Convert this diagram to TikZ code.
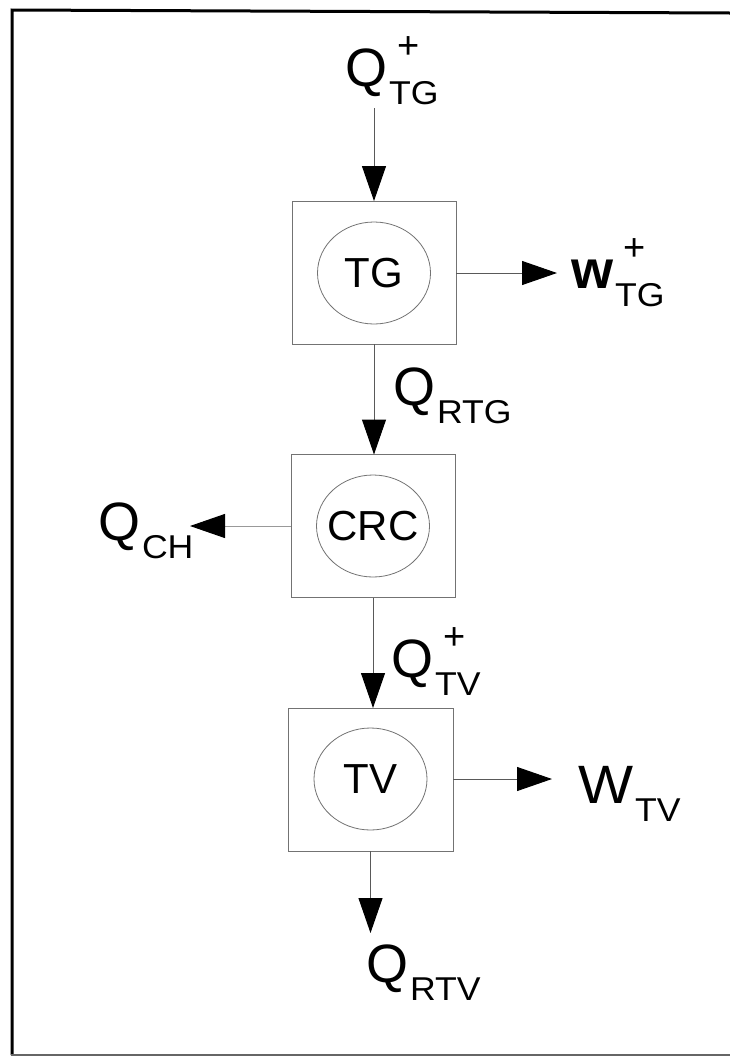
\documentclass[tikz,border=0pt]{standalone}
\usepackage{fontspec}
\setmainfont{Liberation Sans}
\usepackage{graphicx}
\usetikzlibrary{arrows.meta,shapes.geometric}

\newcommand{\mainfnt}{\fontsize{54}{54}\selectfont}
\newcommand{\subfnt}{\fontsize{33}{33}\selectfont}
\newcommand{\supfnt}{\fontsize{38}{38}\selectfont}
\newcommand{\flowlab}[3]{{#1}\hspace{2pt}\rlap{\hspace{8pt}\raisebox{28pt}{\supfnt #3}}\raisebox{-18pt}{\scalebox{1.08}[1]{\subfnt #2}}}

\tikzset{
  lab/.style={anchor=base west, inner sep=0pt, outer sep=0pt},
  boxnode/.style={draw=black!55, line width=1pt, rectangle, minimum width=164pt, minimum height=143pt, inner sep=0pt, outer sep=0pt},
  unit/.style={ellipse, draw=black!55, line width=0.8pt, minimum width=113pt, minimum height=102pt, inner sep=0pt, font=\fontsize{42}{42}\selectfont},
  flow/.style={draw=black!65, line width=1pt, -{Triangle[length=35pt,width=24pt,color=black]}},
  frameline/.style={line width=3pt, draw=black}
}

\begin{document}
\begin{tikzpicture}[x=1pt,y=-1pt]
\useasboundingbox (0,0) rectangle (730,1061);
% frame
\draw[frameline] (12,1055) -- (12,10) -- (730,13);
\draw[line width=2pt, draw=black!60] (11,1055) -- (730,1055);

% boxes
\node[boxnode] (tgbox) at (374,272.5) {};
\node[boxnode] (crcbox) at (373,526) {};
\node[boxnode, minimum width=165pt] (tvbox) at (370.5,779.5) {};

% units
\node[unit] (tg) at (374,273) {\makebox[0pt]{TG}};
\node[unit] (crc) at (373,526) {\makebox[0pt]{CRC}};
\node[unit] (tv) at (370.5,779) {\makebox[0pt]{TV}};

% labels
\node[lab] (qtg) at (345,86) {\flowlab{\mainfnt Q}{TG}{+}};
\node[lab] (wtg) at (571,288) {\flowlab{\mainfnt\bfseries w}{TG}{+}};
\node[lab] (qrtg) at (393,405) {\flowlab{\mainfnt Q}{RTG}{}};
\node[lab] (qch) at (98,540) {\flowlab{\mainfnt Q}{CH}{}};
\node[lab] (qtv) at (391,677) {\flowlab{\mainfnt Q}{TV}{+}};
\node[lab] (wtv) at (578,803) {\flowlab{\scalebox{1.08}[1]{\mainfnt W}}{TV}{}};
\node[lab] (qrtv) at (366,982) {\flowlab{\mainfnt Q}{RTV}{}};

% connectors
\coordinate (intop) at (374,108);
\coordinate (outbot) at (370.5,933);
\coordinate (wtgtip) at (557,273);
\coordinate (wtvtip) at (552,779);
\coordinate (qchtip) at (190,526);

\draw[flow] (intop) -- (tgbox.north);
\draw[flow] (tgbox.south) -- (tgbox.south |- crcbox.north);
\draw[flow] (crcbox.south) -- (crcbox.south |- tvbox.north);
\draw[flow] (tvbox.south) -- (outbot);
\draw[flow] (tgbox.east |- tg.center) -- (wtgtip);
\draw[flow] (tvbox.east |- tv.center) -- (wtvtip);
\draw[flow, draw=black!40] (crcbox.west |- crc.center) -- (qchtip);
\end{tikzpicture}
\end{document}
